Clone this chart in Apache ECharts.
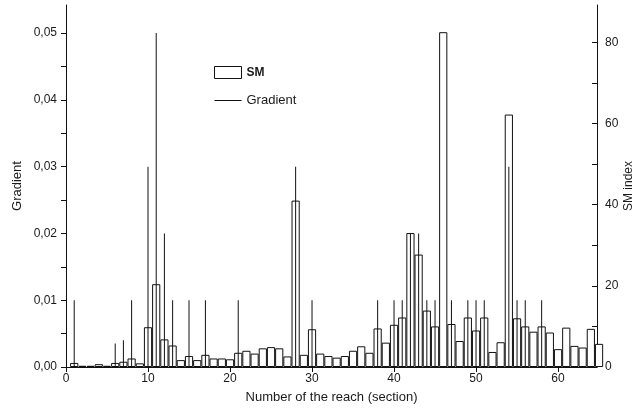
<!DOCTYPE html>
<html><head><meta charset="utf-8">
<script src="https://cdn.jsdelivr.net/npm/echarts@6/dist/echarts.min.js"></script>
<style>html,body{margin:0;padding:0;background:#fff}#c{width:640px;height:413px}</style>
</head><body><div id="c"></div>
<script>
const reaches = [1,2,3,4,5,6,7,8,9,10,11,12,13,14,15,16,17,18,19,20,21,22,23,24,25,26,27,28,29,30,31,32,33,34,35,36,37,38,39,40,41,42,43,44,45,46,47,48,49,50,51,52,53,54,55,56,57,58,59,60,61,62,63,64,65];
const smIndex = [1.0,0.3,0.3,0.7,0.3,1.0,1.3,2.1,0.9,9.8,20.4,6.8,5.3,1.7,2.7,1.7,3.0,2.1,2.1,1.9,3.5,4.0,3.3,4.6,4.9,4.6,2.6,41.0,3.0,9.3,3.3,2.7,2.3,2.7,4.0,5.1,3.5,9.5,6.0,10.4,12.2,33.0,27.7,13.9,10.0,82.5,10.6,6.4,12.2,9.0,12.2,3.7,6.1,62.2,12.0,10.0,8.7,10.0,8.5,4.4,9.7,5.2,4.8,9.4,5.7];
const gradient = [0.01,0,0,0,0,0.0035,0.004,0.01,0,0.03,0.05,0.02,0.01,0,0.01,0,0.01,0,0,0,0.01,0,0,0,0,0,0,0.03,0,0.01,0,0,0,0,0,0,0,0.01,0,0.01,0.01,0.02,0.02,0.01,0.01,0,0.01,0,0.01,0.01,0.01,0,0,0.03,0.01,0.01,0,0.01,0,0,0,0,0,0,0];
const xTickLabels = [0,10,20,30,40,50,60];
const gradTickLabels = [0,0.01,0.02,0.03,0.04,0.05];
const gradTicks = [0,0.005,0.01,0.015,0.02,0.025,0.03,0.035,0.04,0.045,0.05];
const smTickLabels = [0,20,40,60,80];
const smTicks = [0,10,20,30,40,50,60,70,80];

const FONT = 'Liberation Sans, Arial, sans-serif';
const TXT = '#1a1a1a';
const chart = echarts.init(document.getElementById('c'), null, {renderer:'canvas'});
const smData = reaches.map((r,i)=>[r, smIndex[i]]);
const gradData = reaches.map((r,i)=>[r, gradient[i]]);
const XMAX = 64.75;
chart.setOption({
  animation:false,
  backgroundColor:'#fff',
  textStyle:{fontFamily:FONT},
  grid:{left:66,right:43,top:5,bottom:46,containLabel:false,outerBoundsMode:'none'},
  legend:{
    orient:'vertical', left:214, top:66, padding:0, itemWidth:27, itemHeight:12, itemGap:15,
    itemStyle:{borderWidth:1},
    data:[{name:'SM', icon:'rect'},{name:'Gradient', icon:'path://M0,0H27V1H0Z'}],
    textStyle:{fontSize:13, color:TXT, fontFamily:FONT, rich:{b:{fontWeight:'bold', fontSize:12, color:TXT, fontFamily:FONT}}},
    formatter: n => n==='SM' ? '{b|SM}' : n
  },
  xAxis:[{
    type:'value', min:0, max:XMAX,
    name:'Number of the reach (section)', nameLocation:'middle', nameGap:24, nameMoveOverlap:false,
    nameTextStyle:{fontSize:13,color:TXT,fontFamily:FONT},
    axisLine:{onZero:false,lineStyle:{color:'#111',width:1}},
    axisTick:{customValues:xTickLabels,length:5,lineStyle:{color:'#111'}},
    axisLabel:{customValues:xTickLabels,fontSize:12,color:TXT,margin:6,fontFamily:FONT},
    splitLine:{show:false}
  },{
    type:'value', min:0, max:XMAX, show:false
  }],
  yAxis:[{
    type:'value', min:0, max:0.0542, position:'left',
    name:'Gradient', nameLocation:'middle', nameGap:42, nameRotate:90, nameMoveOverlap:false,
    nameTextStyle:{fontSize:13,color:TXT,fontFamily:FONT},
    axisLine:{show:true,onZero:false,lineStyle:{color:'#111',width:1}},
    axisTick:{show:true,customValues:gradTicks,length:5,lineStyle:{color:'#111'}},
    axisLabel:{customValues:gradTickLabels,fontSize:12,color:TXT,margin:9,fontFamily:FONT,
      formatter:v=>v.toFixed(2).replace('.',',')},
    splitLine:{show:false}
  },{
    type:'value', min:0, max:89.2, position:'right',
    name:'SM index', nameLocation:'middle', nameGap:26, nameRotate:90, nameMoveOverlap:false,
    nameTextStyle:{fontSize:12,color:TXT,fontFamily:FONT},
    axisLine:{show:true,onZero:false,lineStyle:{color:'#111',width:1}},
    axisTick:{show:true,inside:true,customValues:smTicks,length:5,lineStyle:{color:'#111'}},
    axisLabel:{customValues:smTickLabels,fontSize:12,color:TXT,margin:8,fontFamily:FONT},
    splitLine:{show:false}
  }],
  series:[{
    type:'bar', name:'SM', xAxisIndex:0, yAxisIndex:1, data:smData, barWidth:'100%', clip:false, z:2,
    itemStyle:{color:'#fff', borderColor:'#111', borderWidth:1}
  },{
    type:'bar', name:'Gradient', xAxisIndex:1, yAxisIndex:0, data:gradData, barWidth:1, clip:false, z:3,
    itemStyle:{color:'#111'}
  }]
});
</script>
</body></html>
